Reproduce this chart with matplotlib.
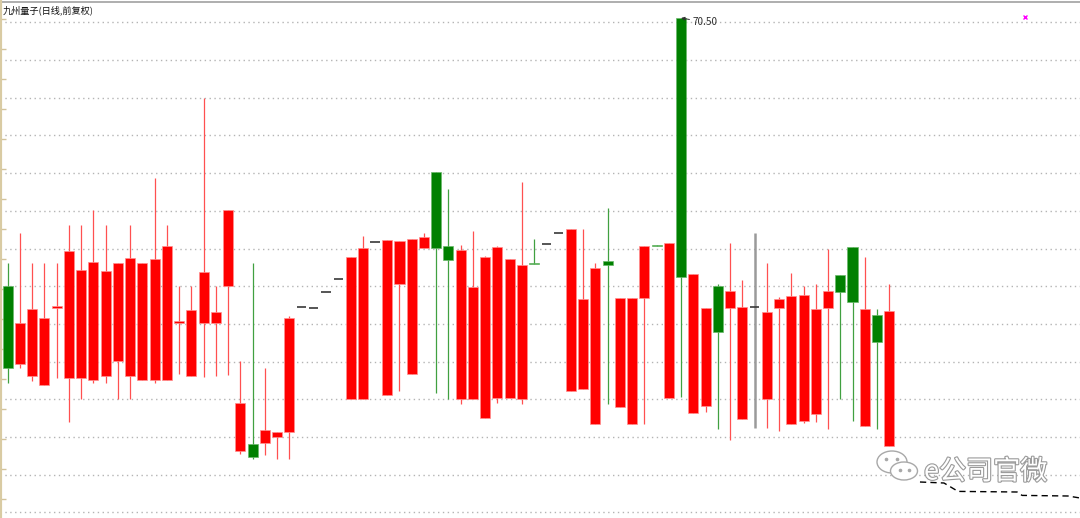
import matplotlib.pyplot as plt
import matplotlib.patheffects as pe
from matplotlib.patches import Rectangle, Ellipse
from matplotlib.ticker import FixedLocator

plt.rcParams['font.family'] = ['Noto Sans CJK SC', 'DejaVu Sans']

title = '九州量子(日线,前复权)'
watermark = 'e公司官微'

# daily OHLC, one entry per trading day
opens = [57.10, 53.19, 52.62, 52.15, 55.99, 52.49, 52.49, 52.40, 52.62, 53.35,
         52.62, 52.40, 52.40, 52.40, 55.27, 52.62, 55.27, 55.27, 57.12, 48.87,
         49.19, 49.24, 49.57, 49.79, 56.04, 56.00, 56.79, 57.44, 51.45, 51.45,
         59.30, 51.65, 57.19, 52.69, 59.00, 62.82, 59.12, 51.45, 51.45, 50.49,
         51.52, 51.49, 51.45, 58.25, 59.19, 59.77, 51.85, 51.97, 50.22, 58.34,
         51.05, 50.22, 56.50, 59.13, 51.50, 70.50, 50.77, 51.09, 57.10, 55.99,
         50.45, 56.04, 51.47, 56.02, 50.22, 50.34, 50.72, 55.98, 57.64, 59.04,
         50.10, 55.65, 49.09]
highs = [58.24, 59.74, 58.24, 58.24, 58.24, 60.15, 60.15, 60.90, 60.15, 58.24,
         60.15, 58.24, 62.49, 60.15, 57.10, 57.10, 66.52, 57.10, 60.90, 53.35,
         58.24, 52.99, 49.79, 55.60, 56.04, 56.00, 56.79, 57.44, 58.54, 59.60,
         59.30, 59.40, 59.34, 59.44, 59.75, 62.82, 61.94, 59.14, 59.85, 58.60,
         59.09, 58.47, 62.32, 59.44, 59.19, 59.77, 59.95, 59.95, 58.25, 60.99,
         56.50, 56.50, 59.09, 59.13, 59.24, 70.50, 57.72, 55.98, 57.19, 59.24,
         57.39, 59.77, 58.25, 56.57, 57.74, 57.12, 57.19, 58.94, 57.64, 59.04,
         58.55, 55.95, 57.19]
lows = [52.24, 52.99, 52.37, 52.15, 52.49, 50.32, 51.45, 52.24, 52.27, 51.45,
        51.45, 52.40, 52.24, 52.40, 52.70, 52.62, 52.57, 52.62, 52.65, 48.69,
        48.44, 48.65, 48.45, 48.45, 56.04, 56.00, 56.79, 57.44, 51.45, 51.45,
        59.30, 51.65, 51.85, 52.69, 59.00, 51.74, 51.45, 51.19, 51.45, 50.49,
        51.27, 51.49, 51.20, 58.20, 59.19, 59.77, 51.85, 51.97, 50.22, 51.19,
        51.05, 50.22, 50.22, 59.08, 51.50, 51.57, 50.77, 50.82, 49.95, 49.40,
        50.45, 49.99, 49.99, 49.87, 50.22, 50.25, 50.29, 49.95, 51.45, 50.36,
        50.10, 49.95, 49.09]
closes = [52.99, 55.24, 55.94, 55.49, 56.12, 58.87, 57.90, 58.32, 57.87, 58.24,
          58.52, 58.24, 58.47, 59.10, 55.37, 55.90, 57.82, 55.79, 60.90, 51.24,
          48.57, 49.90, 49.79, 55.49, 56.04, 56.00, 56.79, 57.44, 58.54, 59.00,
          59.30, 59.40, 59.34, 59.44, 59.54, 58.99, 58.42, 58.89, 57.04, 58.55,
          59.07, 58.47, 58.14, 58.20, 59.19, 59.77, 59.95, 56.47, 57.99, 58.14,
          56.50, 56.50, 59.09, 59.08, 59.24, 57.57, 57.72, 55.98, 54.82, 56.87,
          56.04, 56.04, 55.82, 56.45, 56.60, 56.65, 55.94, 56.85, 56.79, 56.29,
          55.97, 54.28, 55.85]

# dashed projection line at the lower right
proj_x = [74.51, 76.47, 77.62, 82.44, 82.85, 86.60, 87.58]
proj_y = [47.30, 47.25, 46.83, 46.80, 46.63, 46.60, 46.50]

peak_label = '70.50'

fig = plt.figure(figsize=(10.8, 5.18), dpi=100)
ax = fig.add_axes([0, 0, 1, 1])
ax.set_xlim(-0.629, 87.58)
ax.set_ylim(45.5, 71.4)

RED, GREEN = '#ff0000', '#008000'
w = 0.82
for i, (o, h, l, c) in enumerate(zip(opens, highs, lows, closes)):
    if o == c and h == l:
        ax.hlines(o, i - 0.38, i + 0.38, color='#383838', lw=1.2, zorder=3)
    elif o == c:
        ax.vlines(i, l, h, color='#9a9a9a', lw=1.8, zorder=2)
        ax.hlines(o, i - 0.38, i + 0.38, color='#383838', lw=1.2, zorder=3)
    else:
        up = c > o
        body_col = RED if up else GREEN
        wick_col = '#ff5050' if up else '#40a040'
        ax.vlines(i, l, h, color=wick_col, lw=0.9, zorder=2)
        ax.add_patch(Rectangle((i - w / 2, min(o, c)), w, max(abs(c - o), 0.06),
                               facecolor=body_col, edgecolor='#ff9090' if up else '#6ab86a',
                               lw=0.5, zorder=3))

ax.plot(proj_x, proj_y, color='black', lw=1, ls=(0, (4.5, 3)), zorder=3)

# grid and frame
grid_levels = [70.285 - 1.885 * k for k in range(14)]
ax.set_yticks(grid_levels)
ax.yaxis.set_minor_locator(FixedLocator([58.45 - 1.5 * k for k in range(-8, 10)]))
ax.grid(axis='y', which='major', color='#b4b4b4', lw=1, ls=(0, (1, 2.5)))
ax.tick_params(axis='y', which='major', length=0, labelleft=False)
ax.tick_params(axis='y', which='minor', length=4, width=1, color='#d2c39c',
               direction='in', labelleft=False)
ax.tick_params(axis='x', bottom=False, labelbottom=False)
for s in ['right', 'bottom', 'top']:
    ax.spines[s].set_visible(False)
ax.spines['left'].set_color('#d9cba3')
ax.spines['left'].set_linewidth(3)
ax.axhline(71.3, color='#a8a8a8', lw=1.3)

ax.text(0.0025, 0.980, title, transform=ax.transAxes, fontsize=6.6,
        ha='left', va='center', color='#111111')

ax.annotate(peak_label, xy=(55, highs[55]), xytext=(8, -3), textcoords='offset points',
            fontsize=7.2, color='#303030', ha='left', va='center',
            arrowprops=dict(arrowstyle='-|>', color='#303030', lw=0.7,
                            mutation_scale=5, shrinkA=0, shrinkB=0))

ax.plot([0.949], [0.967], marker='x', ms=3, mew=1, color='#ff00ff',
        transform=ax.transAxes)

# watermark
for cx, cy, ew, eh in [(892, 462, 30, 22), (904, 471, 27, 18)]:
    ax.add_patch(Ellipse((cx / 1080, 1 - cy / 518), ew / 1080, eh / 518,
                         transform=ax.transAxes, facecolor='white',
                         edgecolor='#a8a8a8', lw=1, zorder=5))
for dx, dy in [(886, 459), (897, 459), (900, 470), (909, 470)]:
    ax.plot([dx / 1080], [1 - dy / 518], marker='o', ms=1.6, color='#a8a8a8',
            transform=ax.transAxes, zorder=6)
ax.text(924 / 1080, 1 - 472 / 518, watermark, transform=ax.transAxes,
        fontsize=19.5, ha='left', va='center', color='white', zorder=6,
        path_effects=[pe.withStroke(linewidth=1.6, foreground='#9a9a9a')])

fig.savefig('out.png', dpi=100)
